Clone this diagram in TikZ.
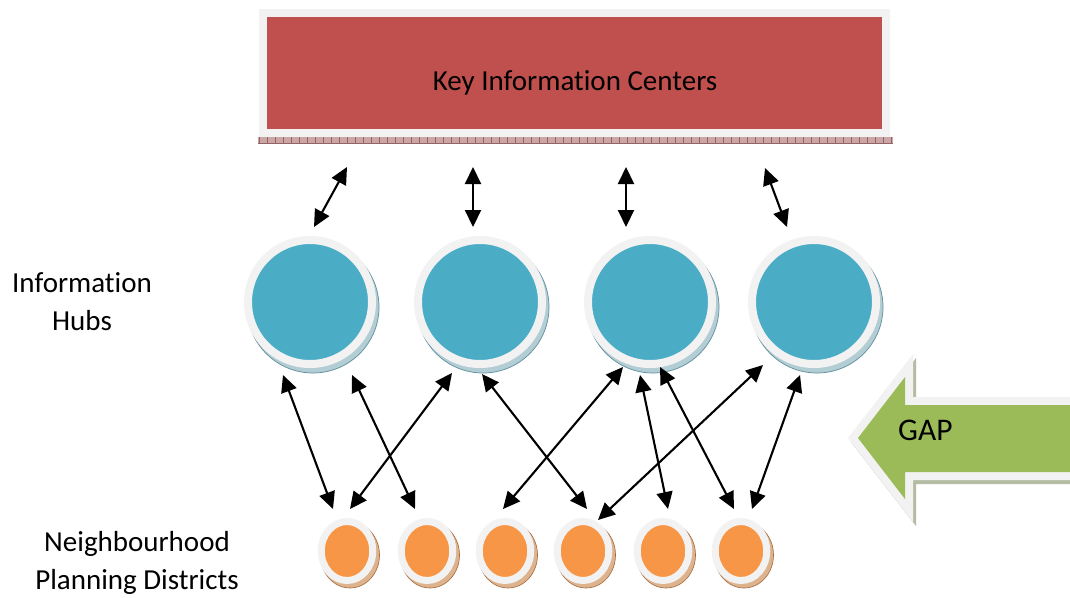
\documentclass[tikz,border=0pt]{standalone}
\usepackage{fontspec}
\setmainfont{Carlito}[Ligatures=NoCommon]
\usetikzlibrary{arrows.meta,shapes.geometric,calc,backgrounds}
\definecolor{keyred}{HTML}{C0504D}
\definecolor{hubblue}{HTML}{4BACC6}
\definecolor{distorange}{HTML}{F79646}
\definecolor{gapgreen}{HTML}{9BBB59}
\definecolor{rim}{HTML}{F2F2F2}
\definecolor{hubshadow}{HTML}{B3CDD5}
\definecolor{hubshadowline}{HTML}{5E8E9C}
\definecolor{distshadow}{HTML}{DDB38E}
\definecolor{distshadowline}{HTML}{A5683A}
\definecolor{keyshadow}{HTML}{CBA6A6}
\definecolor{keyshadowline}{HTML}{946464}
\definecolor{gapshadow}{HTML}{B4BDA3}
\tikzset{
  centerbox/.style={rectangle, fill=keyred, draw=rim, line width=8pt,
    minimum width=623.5pt, minimum height=120pt, inner sep=0pt},
  hubnode/.style={circle, fill=hubblue, draw=rim, line width=8pt,
    minimum size=124pt, inner sep=0pt},
  distnode/.style={ellipse, fill=distorange, draw=rim, line width=7pt,
    minimum width=51.5pt, minimum height=59pt, inner sep=0pt},
  txtlabel/.style={font=\fontsize{29}{38}\selectfont, align=center, inner sep=0pt},
  link/.style={{Triangle[length=17pt,width=16pt]}-{Triangle[length=17pt,width=16pt]},
    line width=2.1pt},
}
\begin{document}
\begin{tikzpicture}[x=1pt,y=-1pt]
\useasboundingbox (0,0) rectangle (1070,597);

% key information centers
\node[centerbox] (k) at (574.5,73) {};
\node[txtlabel, anchor=base] (ktext) at (575,90) {Key Information Centers};

% hubs
\node[hubnode] (h1) at (310,302) {};
\node[hubnode] (h2) at (480,302) {};
\node[hubnode] (h3) at (650,302) {};
\node[hubnode] (h4) at (814,302) {};

% districts
\node[distnode] (d1) at (347,551) {};
\node[distnode] (d2) at (427,551) {};
\node[distnode] (d3) at (505,551) {};
\node[distnode] (d4) at (583,551) {};
\node[distnode] (d5) at (663,551) {};
\node[distnode] (d6) at (741,551) {};

% shadows
\begin{scope}[on background layer]
  \fill[white] (0,0) rectangle (1070,597);
  \fill[keyshadow] ($(k.south west)+(-1,0)$) rectangle ($(k.south east)+(3,6)$);
  \foreach \x in {0,8,...,632}
    \draw[keyshadowline, line width=0.5pt] ($(k.south west)+(\x,0)$) -- ++(0,6);
  \draw[keyshadowline, line width=0.5pt] ($(k.south west)+(-1,6)$) -- ($(k.south east)+(3,6)$);
  \foreach \h in {h1,h2,h3,h4}
    \filldraw[fill=hubshadow, draw=hubshadowline, line width=0.7pt]
      ([shift={(3,5)}]\h.center) circle (66pt);
  \foreach \d in {d1,d2,d3,d4,d5,d6}
    \filldraw[fill=distshadow, draw=distshadowline, line width=0.6pt]
      ([shift={(3,4)}]\d.center) ellipse [x radius=29.5pt, y radius=33pt];
\end{scope}

% labels
\node[txtlabel] (hublabel) at (82,302) {Information\\Hubs};
\node[txtlabel] (distlabel) at (137,563) {Neighbourhood\\Planning Districts};

% links centers - hubs
\draw[link] ($(k)+(-227.5,94)$) -- ($(h1)+(4,-75)$);
\draw[link] ($(k)+(-101.5,94)$) -- ($(h2)+(-7,-75)$);
\draw[link] ($(k)+(51.5,94)$) -- ($(h3)+(-24,-75)$);
\draw[link] ($(k)+(190.5,95)$) -- ($(h4)+(-27,-75)$);

% links hubs - districts
\draw[link] ($(h1)+(-27,73)$) -- ($(d1)+(-14,-42)$);
\draw[link] ($(h1)+(42,73)$) -- ($(d2)+(-12,-42)$);
\draw[link] ($(h2)+(-28,71)$) -- ($(d1)+(3,-42)$);
\draw[link] ($(h2)+(2,72)$) -- ($(d4)+(4,-42)$);
\draw[link] ($(h3)+(-27,65)$) -- ($(d3)+(-2,-42)$);
\draw[link] ($(h3)+(-10,73)$) -- ($(d5)+(5,-42)$);
\draw[link] ($(h3)+(10,65)$) -- ($(d6)+(-7,-42)$);
\draw[link] ($(h4)+(-51,63)$) -- ($(d4)+(15,-31)$);
\draw[link] ($(h4)+(-14,73)$) -- ($(d6)+(11,-42)$);

% GAP arrow
\fill[gapshadow] (851,442) -- (916,358) -- (916,401) -- (1070,401) -- (1070,484)
  -- (916,484) -- (916,526) -- cycle;
\fill[rim] (848,438) -- (913,354) -- (913,397) -- (1070,397) -- (1070,480)
  -- (913,480) -- (913,522) -- cycle;
\fill[gapgreen] (858,438) -- (905,377) -- (905,405) -- (1070,405) -- (1070,472)
  -- (905,472) -- (905,499) -- cycle;
\node[font=\fontsize{31.5}{38}\selectfont, anchor=base west, inner sep=0pt] (gap) at (898,440) {GAP};
\end{tikzpicture}
\end{document}
